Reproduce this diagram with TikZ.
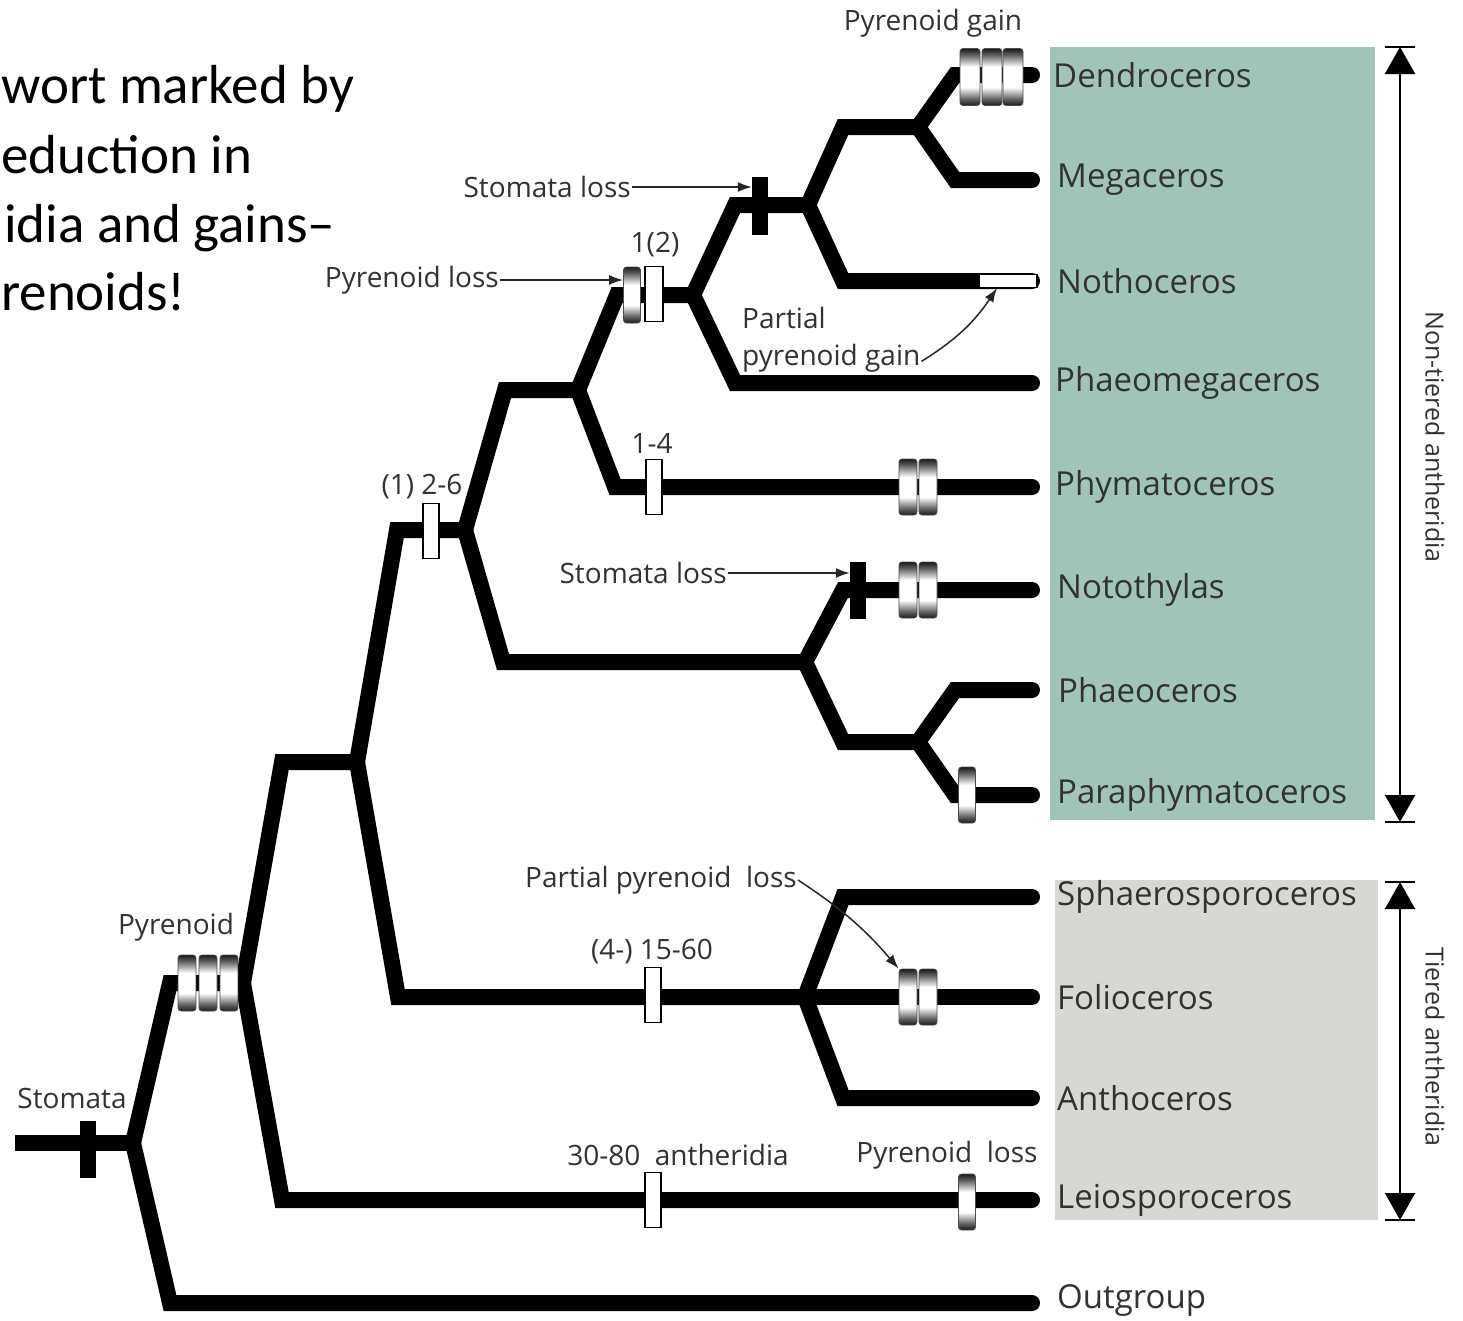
\documentclass[tikz,border=0pt]{standalone}
\usepackage{fontspec}
\setmainfont{Open Sans}
\newfontfamily\calib{Carlito}
\usetikzlibrary{arrows.meta,calc}
\pgfdeclareverticalshading{cyl}{100bp}{color(0bp)=(black!90); color(25bp)=(black!90); color(31bp)=(black!60); color(41bp)=(white); color(59bp)=(white); color(69bp)=(black!60); color(75bp)=(black!90); color(100bp)=(black!90)}
\definecolor{ntgreen}{RGB}{160,196,183}
\definecolor{tgray}{RGB}{215,216,211}
\definecolor{txt}{RGB}{50,50,50}
\tikzset{
  br/.style={line width=16pt, line cap=round, line join=miter, black},
  pyr/.style={shade, shading=cyl, draw=black!70, line width=0.8pt, rounded corners=3pt, minimum width=18pt, minimum height=56pt, inner sep=0pt},
  wbox/.style={draw=black, line width=1.3pt, fill=white, minimum width=16pt, minimum height=55pt, inner sep=0pt},
  sbar/.style={fill=black, minimum width=16pt, minimum height=57pt, inner sep=0pt},
  taxon/.style={anchor=west, text=txt, font=\fontsize{33}{40}\selectfont, inner sep=0pt},
  lab/.style={text=txt, font=\fontsize{28}{37}\selectfont, inner sep=1pt},
  ann/.style={-{Latex[length=14pt,width=10pt]}, line width=1.5pt, black!85},
  rng/.style={{Triangle[width=30pt,length=27pt]}-{Triangle[width=30pt,length=27pt]}, line width=2pt},
  big/.style={font=\calib\fontsize{55}{67}\selectfont, inner sep=0pt, anchor=base west}
}
\begin{document}
\begin{tikzpicture}[x=1pt,y=-1pt]
\useasboundingbox (0,0) rectangle (1463,1320);
\fill[white] (0,0) rectangle (1463,1320);
% background boxes
\fill[ntgreen] (1050,47) rectangle (1375,820);
\fill[tgray] (1055,880) rectangle (1378,1220);

% top-left text
\node[big] (t1) at (1,103) {wort marked by};
\node[big] (t2) at (1,173) {eduction in};
\node[big] (t3) at (4,242) {idia and gains–};
\node[big] (t4) at (1,310) {renoids!};

% coordinates
\coordinate (r0) at (15,1143);
\coordinate (n1) at (133,1143);
\coordinate (cOut) at (170,1303); \coordinate (tOut) at (1032,1303);
\coordinate (c2) at (170,983); \coordinate (n2) at (243,983);
\coordinate (c3) at (282,762); \coordinate (n3) at (357,762);
\coordinate (cLei) at (282,1200); \coordinate (tLei) at (1032,1200);
\coordinate (c4) at (397,530); \coordinate (n4) at (465,530);
\coordinate (c5) at (398,997); \coordinate (n5) at (805,997);
\coordinate (cSph) at (843,897); \coordinate (tSph) at (1032,897);
\coordinate (tFol) at (1032,997);
\coordinate (cAnt) at (843,1098); \coordinate (tAnt) at (1032,1098);
\coordinate (c6) at (505,390); \coordinate (n6) at (578,390);
\coordinate (c7) at (503,662); \coordinate (n7) at (805,662);
\coordinate (c8) at (617,295); \coordinate (n8) at (693,295);
\coordinate (cPhy) at (615,487); \coordinate (tPhy) at (1032,487);
\coordinate (c9) at (735,205); \coordinate (n9) at (808,205);
\coordinate (cPme) at (735,383); \coordinate (tPme) at (1032,383);
\coordinate (c10) at (843,127); \coordinate (n10) at (918,127);
\coordinate (cNoc) at (843,281); \coordinate (tNoc) at (1032,281);
\coordinate (cDen) at (955,75); \coordinate (tDen) at (1032,75);
\coordinate (cMeg) at (955,180); \coordinate (tMeg) at (1032,180);
\coordinate (cNot) at (843,590); \coordinate (tNot) at (1032,590);
\coordinate (c11) at (843,742); \coordinate (n11) at (918,742);
\coordinate (cPhc) at (955,690); \coordinate (tPhc) at (1032,690);
\coordinate (cPar) at (955,795); \coordinate (tPar) at (1032,795);

% branches
\draw[br, line cap=butt] (r0) -- (n1);
\draw[br] (n1) -- (cOut) -- (tOut);
\draw[br] (n1) -- (c2) -- (n2);
\draw[br] (n2) -- (c3) -- (n3);
\draw[br] (n2) -- (cLei) -- (tLei);
\draw[br] (n3) -- (c4) -- (n4);
\draw[br] (n3) -- (c5) -- (n5);
\draw[br] (n5) -- (cSph) -- (tSph);
\draw[br] (n5) -- (tFol);
\draw[br] (n5) -- (cAnt) -- (tAnt);
\draw[br] (n4) -- (c6) -- (n6);
\draw[br] (n4) -- (c7) -- (n7);
\draw[br] (n6) -- (c8) -- (n8);
\draw[br] (n6) -- (cPhy) -- (tPhy);
\draw[br] (n8) -- (c9) -- (n9);
\draw[br] (n8) -- (cPme) -- (tPme);
\draw[br] (n9) -- (c10) -- (n10);
\draw[br] (n9) -- (cNoc) -- (tNoc);
\draw[br] (n10) -- (cDen) -- (tDen);
\draw[br] (n10) -- (cMeg) -- (tMeg);
\draw[br] (n7) -- (cNot) -- (tNot);
\draw[br] (n7) -- (c11) -- (n11);
\draw[br] (n11) -- (cPhc) -- (tPhc);
\draw[br] (n11) -- (cPar) -- (tPar);

% markers
\node[sbar] (sb1) at (88,1149) {};
\node[pyr] (rp1) at (187,983) {};
\node[pyr] (rp2) at (208,983) {};
\node[pyr] (rp3) at (229,983) {};
\node[wbox] (w1) at (431,531) {};
\node[wbox] (w2) at (654,487) {};
\node[wbox] (w3) at (653,995) {};
\node[wbox] (w4) at (653,1200) {};
\node[pyr, minimum width=17pt] (pl1) at (632,295) {};
\node[wbox, minimum width=18pt] (w5) at (654,294) {};
\node[sbar, minimum height=58pt] (sb2) at (760,206) {};
\node[sbar] (sb3) at (858,590) {};
\node[pyr, minimum width=20pt, minimum height=57pt] (pg1) at (970,77) {};
\node[pyr, minimum width=20pt, minimum height=57pt] (pg2) at (992,77) {};
\node[pyr, minimum width=20pt, minimum height=57pt] (pg3) at (1013,77) {};
\node[pyr] (ph1) at (908,487) {};
\node[pyr] (ph2) at (928,487) {};
\node[pyr] (nt1) at (908,590) {};
\node[pyr] (nt2) at (928,590) {};
\node[pyr] (fo1) at (908,997) {};
\node[pyr] (fo2) at (928,997) {};
\node[pyr, minimum width=17pt] (pa1) at (967,795) {};
\node[pyr, minimum width=17pt] (le1) at (967,1202) {};
\node[draw=black, line width=1.3pt, fill=white, minimum width=58pt, minimum height=13pt, inner sep=0pt] (ng) at (1008,281) {};

% taxon labels
\node[taxon] (Den) at (1053,75) {Dendroceros};
\node[taxon] (Meg) at (1057,180) {Megaceros};
\node[taxon] (Noc) at (1057,281) {Nothoceros};
\node[taxon] (Pme) at (1055,383) {Phaeomegaceros};
\node[taxon] (Phy) at (1055,487) {Phymatoceros};
\node[taxon] (Not) at (1057,590) {Notothylas};
\node[taxon] (Phc) at (1058,690) {Phaeoceros};
\node[taxon] (Par) at (1057,795) {Paraphymatoceros};
\node[taxon] (Sph) at (1057,897) {Sphaerosporoceros};
\node[taxon] (Fol) at (1057,997) {Folioceros};
\node[taxon] (Ant) at (1057,1098) {Anthoceros};
\node[taxon] (Lei) at (1057,1200) {Leiosporoceros};
\node[taxon] (Out) at (1057,1300) {Outgroup};

% annotation labels
\node[lab] (lpg) at (933,23) {Pyrenoid gain};
\node[lab, anchor=east] (lsl1) at (632,187) {Stomata loss};
\node[lab, anchor=east] (lpl) at (500,280) {Pyrenoid loss};
\node[lab] (l12) at (655,245) {1(2)};
\node[lab, anchor=north west, align=left] (lppg) at (741,306) {Partial\\pyrenoid gain};
\node[lab] (l14) at (652,443) {1-4};
\node[lab] (l26) at (422,487) {(1) 2-6};
\node[lab, anchor=east] (lsl2) at (728,573) {Stomata loss};
\node[lab] (lppl) at (661,880) {Partial pyrenoid\ \ loss};
\node[lab] (lpyr) at (176,927) {Pyrenoid};
\node[lab] (lsto) at (72,1098) {Stomata};
\node[lab] (l1560) at (652,952) {(4-) 15-60};
\node[lab] (l3080) at (678,1155) {30-80\ \ antheridia};
\node[lab] (lpl2) at (947,1155) {Pyrenoid\ \ loss};

% annotation arrows
\draw[ann] (lsl1.east) -- (lsl1.east -| sb2.west);
\draw[ann] (lpl.east) -- (lpl.east -| pl1.west);
\draw[ann] (lsl2.east) -- (lsl2.east -| sb3.west);
\draw[ann] ([yshift=12pt]lppg.south east) to[bend right=12] ([xshift=-11pt]ng.south);
\draw[ann] (lppl.east) to[bend left=8] (fo1.north west);

% range brackets
\coordinate (nta) at (1400,47); \coordinate (ntb) at (1400,822);
\coordinate (tia) at (1400,882); \coordinate (tib) at (1400,1220);
\draw[rng] (nta) -- (ntb);
\draw[line width=2pt] ([xshift=-15pt]nta) -- ([xshift=15pt]nta);
\draw[line width=2pt] ([xshift=-15pt]ntb) -- ([xshift=15pt]ntb);
\draw[rng] (tia) -- (tib);
\draw[line width=2pt] ([xshift=-15pt]tia) -- ([xshift=15pt]tia);
\draw[line width=2pt] ([xshift=-15pt]tib) -- ([xshift=15pt]tib);
\node[lab, rotate=-90, font=\fontsize{25}{30}\selectfont] (lnt) at (1435,437) {Non-tiered antheridia};
\node[lab, rotate=-90, font=\fontsize{25}{30}\selectfont] (lti) at (1435,1047) {Tiered antheridia};
\end{tikzpicture}
\end{document}
